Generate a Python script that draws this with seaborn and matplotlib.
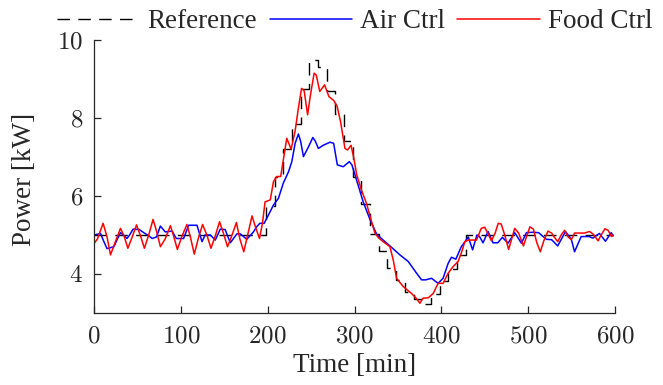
import matplotlib
matplotlib.use('Agg')
import matplotlib.pyplot as plt
import matplotlib.ticker as mticker
import pandas as pd
import seaborn as sns

# Reference: step levels, each held from the listed time to the next
ref_t = [0, 198, 208, 218, 228, 238, 248, 258, 268, 278, 288, 298, 308, 318,
         328, 338, 348, 358, 368, 378, 388, 398, 408, 418, 428, 598]
ref_v = [5.0, 5.75, 6.5, 7.2, 7.85, 8.74, 9.49, 9.3, 8.7, 8.1, 7.4, 6.5, 5.8,
         5.03, 4.6, 4.15, 3.85, 3.55, 3.35, 3.23, 3.5, 3.82, 4.13, 4.5, 5.0, 5.0]

# Air Ctrl (blue)
air_t = [0, 7.5, 11, 15, 22.8, 26, 30.5, 34, 38, 41, 45, 52, 58, 63, 67, 72,
         76.4, 82, 89.9, 94.8, 103.2, 109, 118.6, 122, 124.4, 128, 134, 139.7,
         145.4, 151, 157, 164.6, 168.4, 176, 183.7, 187, 191, 196, 202.9,
         206.7, 212.4, 218, 224, 227.8, 231.6, 235.4, 238, 241.2, 247, 252,
         255, 258.4, 264, 271.8, 276, 280.2, 287, 294, 297, 302.5, 310, 317.8,
         325.5, 333, 340.8, 352.3, 361.9, 371.5, 377.2, 382, 388.7, 396.3, 402,
         407.8, 411.7, 416.7, 423, 428, 431, 436, 441, 444, 448, 453.8, 459.5,
         465, 470.3, 476.8, 484.5, 492.2, 498, 505, 512, 521, 527, 534, 543,
         549.7, 553.4, 561, 570, 574.5, 582, 589, 595.6, 598]
air_v = [5.0, 5.04, 4.85, 4.65, 4.7, 4.85, 5.06, 5.0, 4.91, 5.0, 5.15, 5.14,
         5.05, 4.98, 4.91, 4.95, 5.23, 5.08, 5.1, 4.91, 4.91, 5.25, 5.25, 5.0,
         4.83, 5.0, 5.0, 4.87, 5.15, 5.14, 4.8, 5.03, 5.03, 4.89, 5.08, 5.2,
         5.3, 5.3, 5.6, 5.77, 5.94, 6.33, 6.62, 6.88, 7.35, 7.59, 7.4, 7.01,
         7.26, 7.5, 7.4, 7.22, 7.3, 7.38, 7.35, 6.8, 6.75, 6.88, 6.8, 6.4, 5.85,
         5.4, 5.02, 4.87, 4.72, 4.49, 4.32, 4.02, 3.85, 3.85, 3.89, 3.76, 3.89,
         4.27, 4.43, 4.38, 4.7, 4.85, 4.95, 4.62, 5.0, 4.96, 4.8, 5.09, 4.8,
         4.8, 4.94, 4.79, 5.06, 4.79, 5.06, 5.07, 5.06, 4.89, 4.88, 4.72, 5.09,
         4.89, 4.57, 4.96, 4.96, 4.92, 5.04, 4.84, 5.06, 4.98]

# Food Ctrl (red)
food_t = [0, 4, 10.5, 15, 19, 25, 30.5, 35, 39, 44, 49, 54, 58, 63, 68, 72,
          76.5, 82, 88, 92, 96, 101, 107, 111, 115.5, 120, 125, 130, 134.7, 140,
          144.6, 149, 153.8, 159, 164, 168, 172.5, 177, 182, 186, 190.6, 194,
          197, 203, 206.7, 210.5, 215, 218, 222, 227, 231.5, 235, 239, 242, 246,
          249, 253.5, 256, 260, 265.5, 270.5, 276, 280, 284, 289, 292, 296, 299,
          302.5, 308, 314, 318, 323.5, 328, 333, 340.8, 344.6, 348.5, 356,
          365.7, 371, 375.3, 379, 385, 390.6, 396.3, 402, 407.8, 413.6, 419.3,
          424, 427, 431, 440.5, 446, 450, 457.7, 462, 465.5, 469, 473, 477.5,
          481, 484.5, 489, 494.5, 498, 502, 506, 510, 514, 518, 522.8, 527, 530,
          534, 538, 542, 546, 549.7, 553.4, 558, 565, 570.7, 575, 580.5, 584,
          588.5, 592, 596, 598]
food_v = [4.78, 4.9, 5.3, 4.95, 4.49, 4.85, 5.17, 4.95, 4.66, 4.95, 5.26, 4.95,
          4.66, 5.0, 5.4, 5.1, 4.7, 4.9, 5.24, 4.95, 4.63, 4.95, 5.27, 4.95,
          4.51, 4.9, 5.27, 5.0, 4.66, 5.0, 5.34, 5.05, 4.7, 5.0, 5.32, 4.9, 4.57,
          5.0, 5.49, 5.2, 4.91, 5.3, 5.85, 5.9, 6.37, 6.5, 6.5, 6.92, 7.48, 7.2,
          7.65, 8.2, 8.76, 8.7, 8.08, 8.55, 9.15, 9.1, 8.68, 8.85, 8.55, 8.45,
          8.3, 7.9, 7.22, 7.18, 7.3, 7.0, 6.55, 6.15, 5.8, 5.47, 5.05, 4.92,
          4.83, 4.7, 4.36, 3.89, 3.68, 3.5, 3.38, 3.25, 3.38, 3.39, 3.5, 3.76,
          3.76, 4.02, 4.19, 4.32, 4.6, 4.83, 4.87, 4.87, 5.17, 5.2, 4.85, 5.05,
          5.3, 5.28, 5.0, 4.63, 4.9, 5.17, 5.05, 4.72, 4.95, 5.21, 5.15, 4.8,
          4.57, 4.85, 5.1, 5.05, 4.95, 4.83, 5.0, 5.12, 4.95, 4.88, 5.05, 5.05,
          5.05, 5.09, 5.02, 4.85, 5.0, 5.16, 5.12, 4.96, 5.0]

ref_df = pd.DataFrame({'t': ref_t, 'v': ref_v})
air_df = pd.DataFrame({'t': air_t, 'v': air_v})
food_df = pd.DataFrame({'t': food_t, 'v': food_v})

sns.set_style('ticks')
plt.rcParams['font.family'] = ['Liberation Serif', 'DejaVu Serif']
plt.rcParams['mathtext.fontset'] = 'cm'

fig = plt.figure(figsize=(6.63, 3.85), dpi=100)
ax = fig.add_axes([94 / 663, 1 - 313 / 385, 521 / 663, 273 / 385])

sns.lineplot(data=ref_df, x='t', y='v', ax=ax, color='black', lw=1.0,
             estimator=None, drawstyle='steps-post', dashes=False,
             label='Reference')
ax.lines[-1].set_dashes((9, 6))
sns.lineplot(data=air_df, x='t', y='v', ax=ax, color='#0000ff', lw=1.1,
             estimator=None, label='Air Ctrl')
sns.lineplot(data=food_df, x='t', y='v', ax=ax, color='#ff0000', lw=1.1,
             estimator=None, label='Food Ctrl')

ax.set_xlim(0, 600)
ax.set_ylim(3, 10)
ax.set_xticks([0, 100, 200, 300, 400, 500, 600])
ax.set_yticks([4, 6, 8, 10])
fmt = mticker.FuncFormatter(lambda x, p: f'${x:g}$')
ax.xaxis.set_major_formatter(fmt)
ax.yaxis.set_major_formatter(fmt)
ax.tick_params(direction='in', length=5, width=0.9, labelsize=18)
ax.tick_params(axis='y', pad=8)
ax.tick_params(axis='x', pad=9)
for s in ['top', 'right']:
    ax.spines[s].set_visible(False)
for s in ['left', 'bottom']:
    ax.spines[s].set_linewidth(0.9)

ax.set_xlabel('Time [min]', fontsize=19.5, labelpad=4)
ax.set_ylabel('Power [kW]', fontsize=19.5)
ax.yaxis.set_label_coords(-0.11, 0.49)

ax.legend(loc='center left', bbox_to_anchor=(57 / 663, 1 - 22 / 385),
          bbox_transform=fig.transFigure,
          ncol=3, frameon=False, fontsize=19.5, handlelength=3.05,
          handletextpad=0.3, columnspacing=0.45, borderpad=0, borderaxespad=0)

fig.savefig('out.png', dpi=100)
